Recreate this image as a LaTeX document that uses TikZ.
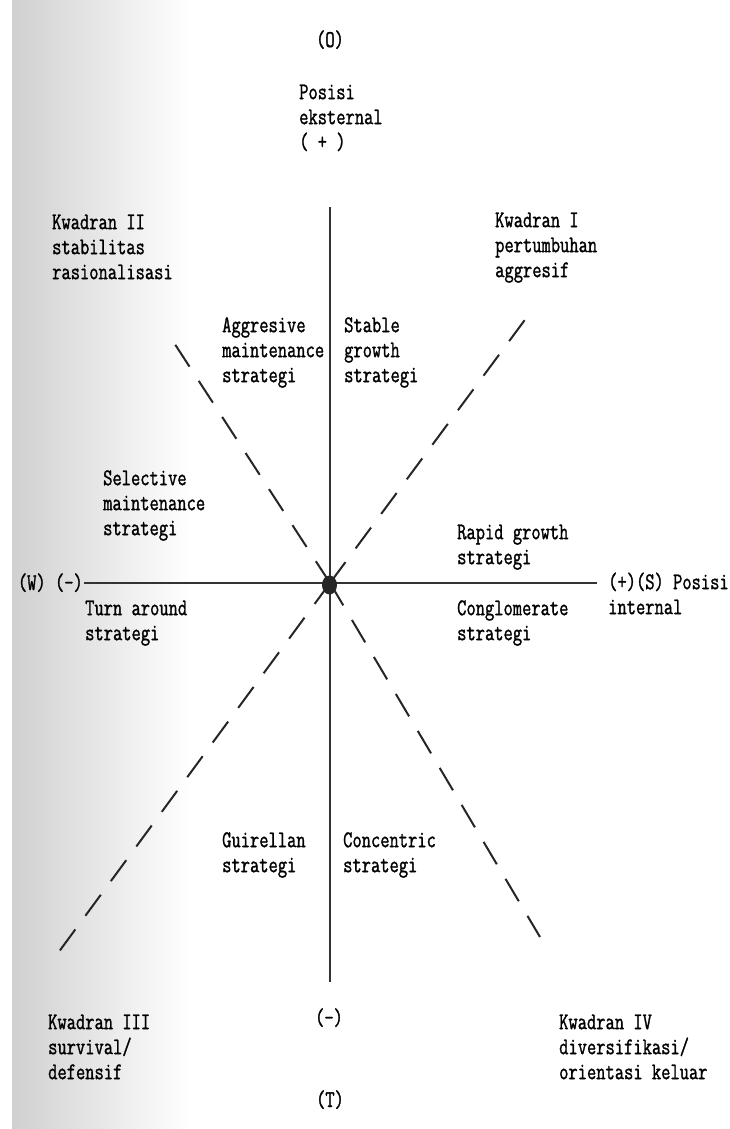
\documentclass[tikz,border=0pt]{standalone}
\usepackage{fontspec}
\setmonofont[FakeStretch=0.75,FakeBold=1.2]{Latin Modern Mono}
\usepackage{xcolor}
\definecolor{scangray}{RGB}{208,208,208}
\usepackage{tikz}

\begin{document}
\begin{tikzpicture}[x=1pt,y=-1pt,
    lbl/.style={font=\ttfamily\fontsize{24}{25}\selectfont, align=left,
                inner sep=0pt, anchor=north west},
    tag/.style={font=\ttfamily\fontsize{24}{25}\selectfont, inner sep=0pt},
    axis/.style={line width=1.4pt, black!80},
    dashline/.style={line width=2pt, black!85, dash pattern=on 26pt off 17pt}]
  \useasboundingbox (0,0) rectangle (729,1129);
  \shade[left color=scangray, right color=white] (12,0) rectangle (190,1129);

  \coordinate (o) at (330,583);
  \coordinate (top) at (330,207);
  \coordinate (bot) at (330,982);
  \coordinate (lft) at (84,583);
  \coordinate (rgt) at (597,583);
  \coordinate (ne) at (527,317);
  \coordinate (nw) at (167,332);
  \coordinate (sw) at (58,953);
  \coordinate (se) at (540,937);

  \path[draw, axis] (top) -- (bot);
  \path[draw, axis] (lft) -- (rgt);
  \path[draw, dashline] (o) -- (ne);
  \path[draw, dashline] (o) -- (sw);
  \path[draw, dashline] (o) -- (nw);
  \path[draw, dashline] (o) -- (se);
  \fill[black!85] (329.5,585) ellipse (7.5 and 9.5);

  \node[tag, anchor=base] (opp) at (330,47) {(O)};
  \node[lbl] (ext) at (299,81.5) {\strut Posisi\\eksternal\\( + )};
  \node[lbl] (kw2) at (52,211.5) {\strut Kwadran II\\stabilitas\\rasionalisasi};
  \node[lbl] (kw1) at (495,209.5) {\strut Kwadran I\\pertumbuhan\\aggresif};
  \node[lbl] (aggr) at (222,314.5) {\strut Aggresive\\maintenance\\strategi};
  \node[lbl] (stab) at (344,314.5) {\strut Stable\\growth\\strategi};
  \node[lbl] (sel) at (103,467.5) {\strut Selective\\maintenance\\strategi};
  \node[lbl] (rapid) at (457,521.5) {\strut Rapid growth\\strategi};
  \node[tag, anchor=base east] (weak) at (83,590) {(W) (-)};
  \node[lbl] (int) at (608,571.5) {\strut (+)(S) Posisi\\internal};
  \node[lbl] (turn) at (85,597.5) {\strut Turn around\\strategi};
  \node[lbl] (cong) at (457,597.5) {\strut Conglomerate\\strategi};
  \node[lbl] (guir) at (222,829.5) {\strut Guirellan\\strategi};
  \node[lbl] (conc) at (343,829.5) {\strut Concentric\\strategi};
  \node[lbl] (kw3) at (48,1011.5) {\strut Kwadran III\\survival/\\defensif};
  \node[tag, anchor=base] (neg) at (329,1025) {(-)};
  \node[lbl] (kw4) at (559,1011.5) {\strut Kwadran IV\\diversifikasi/\\orientasi keluar};
  \node[tag, anchor=base] (thr) at (330,1107) {(T)};
\end{tikzpicture}
\end{document}
